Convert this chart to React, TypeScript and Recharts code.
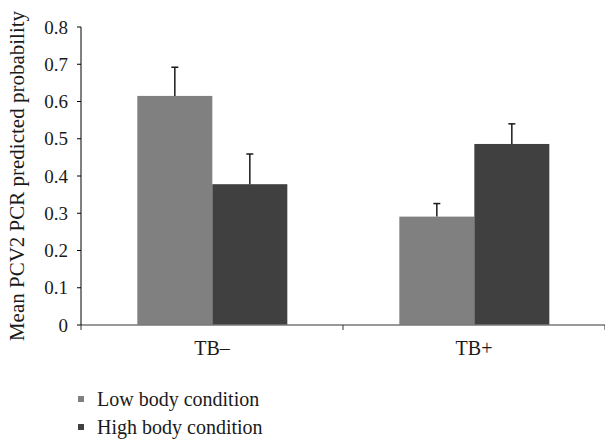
import { BarChart, Bar, XAxis, YAxis, Legend, Label } from 'recharts';

const categories = ['TB\u2013', 'TB+'];
const lowValues = [0.615, 0.291];
const lowErrors = [0.077, 0.035];
const highValues = [0.378, 0.486];
const highErrors = [0.081, 0.054];
const yTicks = [0, 0.1, 0.2, 0.3, 0.4, 0.5, 0.6, 0.7, 0.8];
const seriesNames = ['Low body condition', 'High body condition'];

const data = categories.map((name, i) => ({
  name,
  low: lowValues[i],
  lowErr: lowErrors[i],
  high: highValues[i],
  highErr: highErrors[i],
}));

const font = '"Liberation Serif", "Times New Roman", serif';

// bar plus an upward-only error whisker, sized from the bar's own scale
const barWithError = (errKey: string) => (props: any) => {
  const { x, y, width, height, fill, payload, value } = props;
  const v = Array.isArray(value) ? value[1] - value[0] : value;
  const err = payload[errKey];
  const len = v ? (height / v) * err : 0;
  const cx = x + width / 2;
  return (
    <g>
      <rect x={x} y={y} width={width} height={height} fill={fill} />
      <line x1={cx} y1={y} x2={cx} y2={y - len} stroke="#1a1a1a" strokeWidth={1.5} />
      <line x1={cx - 3.5} y1={y - len} x2={cx + 3.5} y2={y - len} stroke="#1a1a1a" strokeWidth={1.5} />
    </g>
  );
};

const CategoryTick = (props: any) => {
  const { x, y, payload, index, visibleTicksCount } = props;
  const half = payload.offset || 0;
  const axisY = y - 16;
  return (
    <g>
      <line x1={x - half} y1={axisY} x2={x - half} y2={axisY + 5} stroke="#333" strokeWidth={1} />
      {index === visibleTicksCount - 1 && (
        <line x1={x + half} y1={axisY} x2={x + half} y2={axisY + 5} stroke="#333" strokeWidth={1} />
      )}
      <text x={x} y={y + 14} textAnchor="middle" style={{ fontFamily: font, fontSize: 20 }} fill="#1a1a1a">
        {payload.value}
      </text>
    </g>
  );
};

const ValueTick = (props: any) => {
  const { x, y, payload } = props;
  return (
    <text x={x} y={y + 6.5} textAnchor="end" style={{ fontFamily: font, fontSize: 19 }} fill="#1a1a1a">
      {payload.value}
    </text>
  );
};

const renderLegend = (props: any) => {
  const items = [...props.payload].sort(
    (a: any, b: any) => seriesNames.indexOf(a.value) - seriesNames.indexOf(b.value)
  );
  return (
    <div style={{ fontFamily: font, fontSize: 20, color: '#1a1a1a' }}>
      {items.map((entry: any) => (
        <div key={entry.value} style={{ display: 'flex', alignItems: 'center', height: 28, lineHeight: '28px' }}>
          <span style={{ display: 'inline-block', width: 6, height: 6, background: entry.color, marginRight: 13 }} />
          <span>{entry.value}</span>
        </div>
      ))}
    </div>
  );
};

export default function App() {
  return (
    <div style={{ position: 'absolute', left: 0, top: 0, background: '#fff', fontFamily: font }}>
      <BarChart
        width={605}
        height={440}
        data={data}
        margin={{ top: 27, right: 0, bottom: 85, left: 0 }}
        barCategoryGap="21.5%"
        barGap={0}
        style={{ fontFamily: font }}
      >
        <XAxis
          dataKey="name"
          height={30}
          axisLine={{ stroke: '#777', strokeWidth: 1.5 }}
          tickLine={false}
          tickSize={6}
          tickMargin={10}
          tick={<CategoryTick />}
          interval={0}
        />
        <YAxis
          width={81}
          domain={[0, 0.8]}
          ticks={yTicks}
          interval={0}
          axisLine={{ stroke: '#000', strokeWidth: 1 }}
          tickLine={{ stroke: '#000' }}
          tickSize={4}
          tickMargin={9}
          tick={<ValueTick />}
        >
          <Label
            value="Mean PCV2 PCR predicted probability"
            angle={-90}
            position="insideLeft"
            offset={17}
            style={{ textAnchor: 'middle', fontFamily: font, fontSize: 21, fill: '#1a1a1a' }}
          />
        </YAxis>
        <Legend
          layout="horizontal"
          verticalAlign="middle"
          align="center"
          wrapperStyle={{ left: 78, top: 385, width: 300, height: 60 }}
          content={renderLegend}
        />
        <Bar
          dataKey="low"
          name={seriesNames[0]}
          fill="#808080"
          shape={barWithError('lowErr')}
          isAnimationActive={false}
        />
        <Bar
          dataKey="high"
          name={seriesNames[1]}
          fill="#404040"
          shape={barWithError('highErr')}
          isAnimationActive={false}
        />
      </BarChart>
    </div>
  );
}
